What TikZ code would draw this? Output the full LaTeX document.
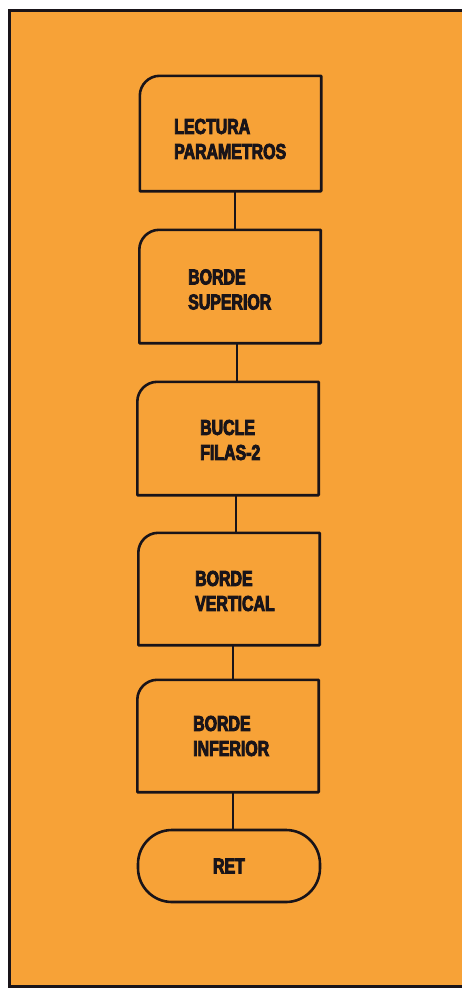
\documentclass[tikz,border=0pt]{standalone}
\usepackage{fontspec}
\newfontfamily\condfont{Liberation Sans Bold}[FakeStretch=0.74,FakeBold=4]
\definecolor{bgorange}{RGB}{247,162,55}
\definecolor{ink}{RGB}{25,20,25}
\begin{document}
\begin{tikzpicture}[x=1pt,y=1pt,
  box/.style={draw=none,minimum width=181pt,minimum height=113pt,inner sep=0pt},
  lbl/.style={anchor=west,align=left,inner sep=0pt,text=ink,
    font=\condfont\fontsize{21.5}{25}\selectfont},
  outline/.style={draw=ink,line width=2.6pt,line join=round},
  link/.style={draw=ink,line width=2.6pt},
  endbox/.style={draw=ink,line width=2.6pt,rounded corners=34pt,minimum width=182pt,minimum height=72pt,inner sep=0pt,text=ink,font=\condfont\fontsize{21.5}{25}\selectfont}]
\useasboundingbox (0,0) rectangle (462,-988);
\fill[white] (0,0) rectangle (462,-988);
\fill[bgorange] (9,-10) rectangle (462,-986);
\draw[draw=ink,line width=3pt,line join=miter] (462,-10) -- (9,-10) -- (9,-986) -- (462,-986);
% boxes
\node[box,minimum height=115pt] (b1) at (230.5,-133.5) {};
\node[box] (b2) at (230,-286.5) {};
\node[box] (b3) at (228,-438.5) {};
\node[box,minimum height=112pt] (b4) at (229,-589) {};
\node[box,minimum height=112pt] (b5) at (228,-736) {};
\node[endbox] (ret) at (229,-866) {RET};
\foreach \b in {b1,b2,b3,b4,b5}{
  \draw[outline] (\b.south west) -- ([yshift=-20pt]\b.north west)
    arc[start angle=180,end angle=90,radius=20pt] -- (\b.north east)
    -- (\b.south east) -- cycle;
}
% labels
\node[lbl] (t1) at (174,-139) {LECTURA\\PARAMETROS};
\node[lbl] (t2) at (188,-289.5) {BORDE\\SUPERIOR};
\node[lbl] (t3) at (200,-440) {BUCLE\\FILAS-2};
\node[lbl] (t4) at (195,-591) {BORDE\\VERTICAL};
\node[lbl] (t5) at (193,-736) {BORDE\\INFERIOR};
% connectors
\draw[link] ([xshift=4.5pt]b1.south) -- ([xshift=4.5pt]b1.south |- b2.north);
\draw[link] ([xshift=7pt]b2.south) -- ([xshift=7pt]b2.south |- b3.north);
\draw[link] ([xshift=8pt]b3.south) -- ([xshift=8pt]b3.south |- b4.north);
\draw[link] ([xshift=4pt]b4.south) -- ([xshift=4pt]b4.south |- b5.north);
\draw[link] ([xshift=5pt]b5.south) -- ([xshift=5pt]b5.south |- ret.north);
\end{tikzpicture}
\end{document}
